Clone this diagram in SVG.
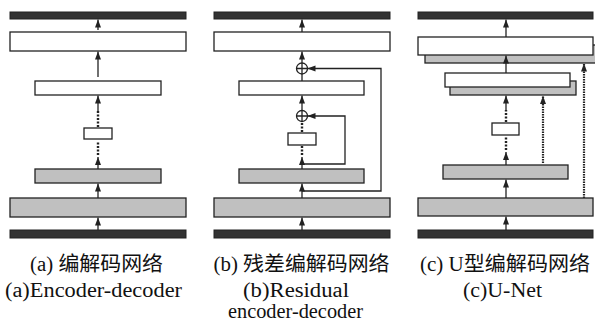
<svg xmlns="http://www.w3.org/2000/svg" width="595" height="324" viewBox="0 0 595 324">
  <style>
    .bar { fill: #333333; stroke: #222222; stroke-width: 1; }
    .wbox { fill: #ffffff; stroke: #222222; stroke-width: 1.3; }
    .gbox { fill: #c0c0c0; stroke: #222222; stroke-width: 1.3; }
    .line { fill: none; stroke: #222222; stroke-width: 1.3; }
    .arrow { fill: none; stroke: #222222; stroke-width: 1.3; marker-end: url(#head); }
    .dots { fill: none; stroke: #222222; stroke-width: 2.4; stroke-dasharray: 2 1.5; }
    .dash { fill: none; stroke: #222222; stroke-width: 2.2; stroke-dasharray: 1.6 0.9; marker-end: url(#head); }
    .sum { fill: #ffffff; stroke: #222222; stroke-width: 1.3; }
    .cap { font-family: "Liberation Serif", "Noto Sans CJK SC", serif; font-size: 20.5px; fill: #111111; text-anchor: middle; }
  </style>
  <defs>
    <marker id="head" markerUnits="userSpaceOnUse" markerWidth="8" markerHeight="8" viewBox="0 0 8 8" refX="8" refY="4" orient="auto">
      <path d="M0,1 L8,4 L0,7 Z" fill="#222222"/>
    </marker>
  </defs>

  <!-- (a) encoder-decoder -->
  <g id="a-output"><rect class="bar" x="10" y="12" width="176" height="7"/></g>
  <g id="a-dec2"><rect class="wbox" x="10" y="32" width="176" height="19"/></g>
  <g id="a-dec1"><rect class="wbox" x="35" y="81" width="126" height="14"/></g>
  <g id="a-mid"><rect class="wbox" x="84" y="128" width="28" height="11"/></g>
  <g id="a-enc2"><rect class="gbox" x="35" y="169" width="126" height="14"/></g>
  <g id="a-enc1"><rect class="gbox" x="10" y="198" width="176" height="19"/></g>
  <g id="a-input"><rect class="bar" x="10" y="230" width="176" height="8"/></g>

  <!-- (b) residual encoder-decoder -->
  <g id="b-output"><rect class="bar" x="214" y="12" width="176" height="7"/></g>
  <g id="b-dec2"><rect class="wbox" x="214" y="32" width="176" height="19"/></g>
  <g id="b-sum1"><circle class="sum" cx="302" cy="68.5" r="5.5"/><path class="line" d="M296.5,68.5 H307.5 M302,63 V74"/></g>
  <g id="b-dec1"><rect class="wbox" x="239" y="81" width="125" height="14"/></g>
  <g id="b-sum2"><circle class="sum" cx="302" cy="116" r="5.5"/><path class="line" d="M296.5,116 H307.5 M302,110.5 V121.5"/></g>
  <g id="b-mid"><rect class="wbox" x="288" y="133" width="28" height="12"/></g>
  <g id="b-enc2"><rect class="gbox" x="239" y="169" width="125" height="14"/></g>
  <g id="b-enc1"><rect class="gbox" x="214" y="198" width="176" height="19"/></g>
  <g id="b-input"><rect class="bar" x="214" y="230" width="176" height="8"/></g>

  <!-- (c) U-Net: decoder blocks carry a concatenated copy behind them -->
  <g id="c-output"><rect class="bar" x="418" y="12" width="175" height="7"/></g>
  <g id="c-dec2">
    <rect class="gbox" x="425" y="45" width="176" height="18"/>
    <rect class="wbox" x="418" y="37" width="175" height="18"/>
  </g>
  <g id="c-dec1">
    <rect class="gbox" x="450" y="81" width="126" height="14"/>
    <rect class="wbox" x="445" y="73" width="125" height="14"/>
  </g>
  <g id="c-mid"><rect class="wbox" x="492" y="123" width="27" height="12"/></g>
  <g id="c-enc2"><rect class="gbox" x="443" y="165" width="125" height="14"/></g>
  <g id="c-enc1"><rect class="gbox" x="418" y="198" width="175" height="18"/></g>
  <g id="c-input"><rect class="bar" x="418" y="230" width="175" height="8"/></g>

  <g id="connectors">
    <!-- (a) -->
    <path class="arrow" d="M98,230 V217.5"/>
    <path class="arrow" d="M98,198 V183.5"/>
    <path class="arrow" d="M98,169 V157"/>
    <path class="dots" d="M98,155 V141"/>
    <path class="dots" d="M98,127 V111"/>
    <path class="arrow" d="M98,112 V95.5"/>
    <path class="arrow" d="M98,77 V51.5"/>
    <path class="arrow" d="M98,30 V19.5"/>

    <!-- (b) -->
    <path class="arrow" d="M302,230 V217.5"/>
    <path class="arrow" d="M302,198 V183.5"/>
    <path class="arrow" d="M302,169 V157"/>
    <path class="dots" d="M302,155 V146"/>
    <path class="dots" d="M302,132 V122"/>
    <path class="arrow" d="M302,110.5 V95.5"/>
    <path class="line" d="M302,81 V74"/>
    <path class="arrow" d="M302,63 V51.5"/>
    <path class="arrow" d="M302,32 V19.5"/>
    <path class="arrow" d="M302,164 H345 V116 H307.5"/>
    <path class="arrow" d="M302,191 H381 V68.5 H307.5"/>

    <!-- (c) -->
    <path class="arrow" d="M506,230 V216.5"/>
    <path class="arrow" d="M506,198 V179.5"/>
    <path class="arrow" d="M506,165 V152"/>
    <path class="dots" d="M506,150 V136"/>
    <path class="dots" d="M506,122 V110"/>
    <path class="arrow" d="M506,111 V95.5"/>
    <path class="arrow" d="M506,73 V55.5"/>
    <path class="arrow" d="M506,37 V19.5"/>
    <path class="dash" d="M543,163 V96"/>
    <path class="dash" d="M584,198 V63.5"/>
  </g>

  <!-- captions -->
  <text class="cap" x="96.5" y="271" textLength="133" lengthAdjust="spacingAndGlyphs">(a) 编解码网络</text>
  <text class="cap" x="93.5" y="297" textLength="177" lengthAdjust="spacingAndGlyphs">(a)Encoder-decoder</text>
  <text class="cap" x="301.5" y="271" textLength="176" lengthAdjust="spacingAndGlyphs">(b) 残差编解码网络</text>
  <text class="cap" x="296" y="297" textLength="106" lengthAdjust="spacingAndGlyphs">(b)Residual</text>
  <text class="cap" x="295.5" y="318" textLength="135" lengthAdjust="spacingAndGlyphs">encoder-decoder</text>
  <text class="cap" x="505" y="271" textLength="170" lengthAdjust="spacingAndGlyphs">(c) U型编解码网络</text>
  <text class="cap" x="502.5" y="297" textLength="79" lengthAdjust="spacingAndGlyphs">(c)U-Net</text>
</svg>
